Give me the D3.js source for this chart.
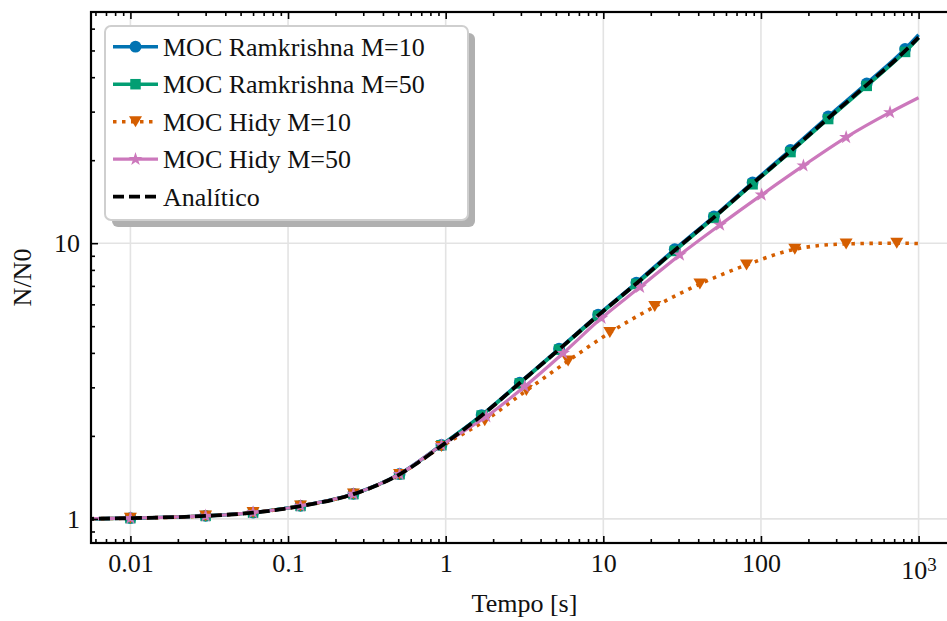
<!DOCTYPE html>
<html>
<head>
<meta charset="utf-8">
<script src="https://cdn.jsdelivr.net/npm/d3@7"></script>
<style>
  body { margin: 0; background: #fff; }
  svg { display: block; }
</style>
</head>
<body>
<script>
// values (t in s, N/N0)
const tRam = [0.005, 0.01, 0.03, 0.06, 0.12, 0.26, 0.51, 0.94, 1.69, 2.95, 5.24, 9.27, 16.2, 28.4, 50.3, 88.5, 154, 267, 469, 821, 1000];
const nRam10 = [1.0, 1.006, 1.025, 1.054, 1.115, 1.232, 1.455, 1.854, 2.38, 3.12, 4.14, 5.50, 7.19, 9.51, 12.5, 16.6, 21.8, 28.8, 38.0, 50.6, 57.0];
const nRam50 = [1.0, 1.006, 1.025, 1.054, 1.114, 1.23, 1.452, 1.85, 2.37, 3.10, 4.11, 5.45, 7.11, 9.37, 12.35, 16.35, 21.4, 28.2, 37.2, 49.4, 55.5];

const tHidy10 = [0.005, 0.01, 0.03, 0.06, 0.12, 0.26, 0.51, 0.94, 1.77, 3.25, 5.98, 11, 21.2, 41, 81, 164, 347, 727, 1000];
const nHidy10 = [1.0, 1.006, 1.025, 1.054, 1.114, 1.23, 1.45, 1.83, 2.27, 2.92, 3.74, 4.74, 5.89, 7.11, 8.34, 9.51, 9.94, 10.0, 9.97];

const tHidy50 = [0.005, 0.01, 0.03, 0.06, 0.12, 0.26, 0.51, 0.94, 1.81, 3.17, 5.56, 9.74, 17.1, 30.6, 55, 101, 186, 347, 659, 1000];
const nHidy50 = [1.0, 1.006, 1.025, 1.054, 1.114, 1.23, 1.452, 1.85, 2.35, 3.02, 3.99, 5.35, 6.93, 9.07, 11.65, 14.97, 19.1, 24.2, 29.8, 33.7];

const tAna = tRam;
const nAna = [1.0, 1.006, 1.025, 1.053, 1.113, 1.23, 1.45, 1.84, 2.37, 3.11, 4.12, 5.47, 7.14, 9.43, 12.4, 16.45, 21.55, 28.4, 37.5, 49.8, 55.8];

const xTicks = [0.01, 0.1, 1, 10, 100, 1000];
const xTickLabels = ["0.01", "0.1", "1", "10", "100", "10^3"];
const yTicks = [1, 10];
const yTickLabels = ["1", "10"];

const labels = ["MOC Ramkrishna M=10", "MOC Ramkrishna M=50", "MOC Hidy M=10", "MOC Hidy M=50", "Analítico"];

const w = 947, h = 621;
const pl = 91, pr = 958, pt = 12, pb = 543;
const serif = "'Liberation Serif', monospace";

const svg = d3.select("body").append("svg").attr("width", w).attr("height", h);

const x = d3.scaleLog().domain([Math.pow(10, -2.25), Math.pow(10, 3.25)]).range([pl, pr]);
const y = d3.scaleLog().domain([Math.pow(10, -0.0875), Math.pow(10, 1.8385)]).range([pb, pt]);

svg.append("defs").append("clipPath").attr("id", "clip")
  .append("rect").attr("x", pl).attr("y", pt).attr("width", pr - pl).attr("height", pb - pt);

// grid
const grid = svg.append("g").attr("stroke", "#e3e3e3").attr("stroke-width", 1.6);
xTicks.forEach(t => grid.append("line").attr("x1", x(t)).attr("x2", x(t)).attr("y1", pt).attr("y2", pb));
yTicks.forEach(v => grid.append("line").attr("x1", pl).attr("x2", pr).attr("y1", y(v)).attr("y2", y(v)));

// series
const triDown = "M-6.5,-5.5L6.5,-5.5L0,5.5Z";
const series = [
  {t: tRam, n: nRam10, color: "#0173b2", dash: null, width: 3.4, sym: d3.symbol(d3.symbolCircle, 110)()},
  {t: tRam, n: nRam50, color: "#029e73", dash: null, width: 3.4, sym: d3.symbol(d3.symbolSquare, 110)()},
  {t: tHidy10, n: nHidy10, color: "#d55e00", dash: "3.5,5.5", width: 3.6, sym: triDown},
  {t: tHidy50, n: nHidy50, color: "#cc78bc", dash: null, width: 3.2, sym: d3.symbol(d3.symbolStar, 60)()},
  {t: tAna, n: nAna, color: "#000", dash: "11,5", width: 3.8, sym: null}
];

const line = d3.line().x(d => x(d[0])).y(d => y(d[1])).curve(d3.curveMonotoneX);
const plot = svg.append("g").attr("clip-path", "url(#clip)");

series.forEach(s => {
  const pts = s.t.map((t, i) => [t, s.n[i]]);
  const p = plot.append("path").datum(pts)
    .attr("d", line).attr("fill", "none")
    .attr("stroke", s.color).attr("stroke-width", s.width);
  if (s.dash) p.attr("stroke-dasharray", s.dash);
  if (s.sym) {
    plot.selectAll(null).data(pts.slice(1, -1)).enter().append("path")
      .attr("d", s.sym).attr("fill", s.color)
      .attr("transform", d => "translate(" + x(d[0]) + "," + y(d[1]) + ")");
  }
});

// minor ticks
const xMinor = [];
for (let k = -3; k <= 3; k++) for (let m = 2; m <= 9; m++) {
  const v = m * Math.pow(10, k);
  if (v > x.domain()[0] && v < x.domain()[1]) xMinor.push(v);
}
const yMinor = [];
for (let k = -1; k <= 1; k++) for (let m = 2; m <= 9; m++) {
  const v = m * Math.pow(10, k);
  if (v > y.domain()[0] && v < y.domain()[1]) yMinor.push(v);
}

function styleAxis(g) {
  g.select(".domain").remove();
  g.attr("font-family", null).attr("font-size", null);
  g.selectAll(".tick line").attr("stroke", "#000").attr("stroke-width", 1.6);
  g.selectAll("text").style("font-family", serif).attr("font-size", 26).attr("fill", "#111");
}

const xAxis = svg.append("g").attr("transform", "translate(0," + pb + ")")
  .call(d3.axisBottom(x).tickValues(xTicks).tickFormat((d, i) => xTickLabels[i]).tickSize(-7).tickPadding(11))
  .call(styleAxis);
svg.append("g").attr("transform", "translate(0," + pb + ")")
  .call(d3.axisBottom(x).tickValues(xMinor).tickFormat("").tickSize(-4)).call(styleAxis);
svg.append("g").attr("transform", "translate(0," + pt + ")")
  .call(d3.axisTop(x).tickValues(xTicks).tickFormat("").tickSize(-7)).call(styleAxis);
svg.append("g").attr("transform", "translate(0," + pt + ")")
  .call(d3.axisTop(x).tickValues(xMinor).tickFormat("").tickSize(-4)).call(styleAxis);

svg.append("g").attr("transform", "translate(" + pl + ",0)")
  .call(d3.axisLeft(y).tickValues(yTicks).tickFormat((d, i) => yTickLabels[i]).tickSize(-7).tickPadding(11))
  .call(styleAxis);
svg.append("g").attr("transform", "translate(" + pl + ",0)")
  .call(d3.axisLeft(y).tickValues(yMinor).tickFormat("").tickSize(-4)).call(styleAxis);
svg.append("g").attr("transform", "translate(" + pr + ",0)")
  .call(d3.axisRight(y).tickValues(yTicks).tickFormat("").tickSize(-7)).call(styleAxis);
svg.append("g").attr("transform", "translate(" + pr + ",0)")
  .call(d3.axisRight(y).tickValues(yMinor).tickFormat("").tickSize(-4)).call(styleAxis);

// 10^3 label with superscript
xAxis.selectAll(".tick text").filter(d => d === 1000).each(function() {
  const t = d3.select(this);
  t.text("10").attr("y", 18);
  t.append("tspan").attr("dy", "-0.42em").attr("font-size", 19).text("3");
});

// spines
svg.append("rect").attr("x", pl).attr("y", pt).attr("width", pr - pl).attr("height", pb - pt)
  .attr("fill", "none").attr("stroke", "#000").attr("stroke-width", 2.2);

// axis labels
svg.append("text").attr("x", (pl + pr) / 2).attr("y", 612)
  .attr("text-anchor", "middle").attr("font-size", 26).attr("fill", "#111")
  .style("font-family", serif).text("Tempo [s]");
svg.append("text").attr("transform", "translate(31," + (pt + pb) / 2 + ") rotate(-90)")
  .attr("text-anchor", "middle").attr("font-size", 26).attr("fill", "#111")
  .style("font-family", serif).text("N/N0");

// legend
const lg = svg.append("g");
lg.append("rect").attr("x", 112).attr("y", 33).attr("width", 363).attr("height", 194).attr("rx", 6)
  .attr("fill", "#b0b0b0");
lg.append("rect").attr("x", 105).attr("y", 26).attr("width", 363).attr("height", 194).attr("rx", 6)
  .attr("fill", "#fff").attr("stroke", "#cfcfcf").attr("stroke-width", 2);

series.forEach((s, i) => {
  const cy = 46.7 + i * 37.5;
  const l = lg.append("line").attr("x1", 113).attr("x2", 158).attr("y1", cy).attr("y2", cy)
    .attr("stroke", s.color).attr("stroke-width", s.width);
  if (s.dash) l.attr("stroke-dasharray", s.dash);
  if (s.sym) lg.append("path").attr("d", s.sym).attr("fill", s.color)
    .attr("transform", "translate(135.5," + cy + ")");
  lg.append("text").attr("x", 163).attr("y", cy + 9)
    .attr("font-size", 26).attr("fill", "#111")
    .style("font-family", serif).text(labels[i]);
});
</script>
</body>
</html>
